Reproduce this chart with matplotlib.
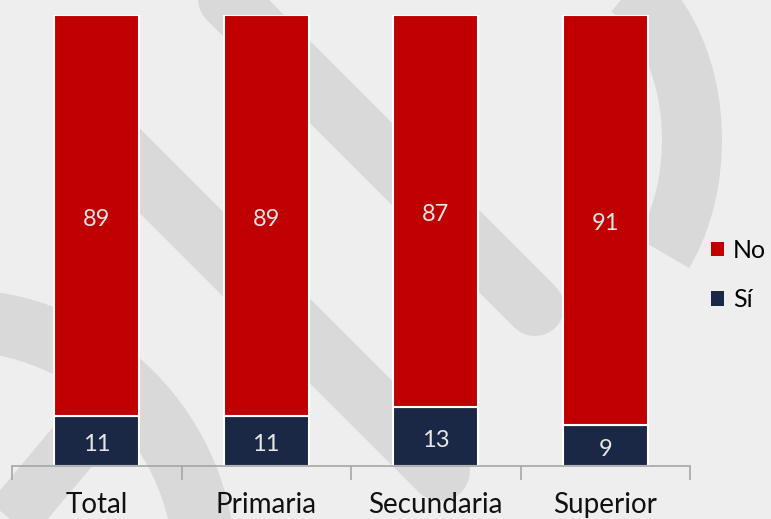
import matplotlib
matplotlib.use("Agg")
import matplotlib.pyplot as plt
from matplotlib.patches import Arc
from matplotlib.lines import Line2D
import numpy as np

categories = ["Total", "Primaria", "Secundaria", "Superior"]
si_values = [11, 11, 13, 9]
no_values = [89, 89, 87, 91]
series_names = ["No", "Sí"]

RED = "#C00000"
NAVY = "#1B2845"
BG = "#EEEEEE"
WM = "#D9D9D9"

plt.rcParams["font.family"] = ["Lato", "DejaVu Sans"]

fig = plt.figure(figsize=(7.71, 5.19), dpi=100, facecolor=BG)

# decorative watermark (background logo), figure pixel coords
wm = fig.add_axes([0, 0, 1, 1], zorder=0)
wm.set_xlim(0, 771)
wm.set_ylim(519, 0)
wm.axis("off")
wm.set_facecolor(BG)
px = 72 / 100.0
wm.add_line(Line2D([95, 440], [126, 471], color=WM, lw=60 * px, solid_capstyle="round"))
wm.add_line(Line2D([222, 535], [-6, 307], color=WM, lw=58 * px, solid_capstyle="round"))
wm.add_patch(Arc((575, 140), 234, 344, theta1=-70, theta2=52, color=WM, lw=60 * px))
wm.add_patch(Arc((-45, 570), 500, 500, theta1=-90, theta2=0, color=WM, lw=62 * px))
wm.add_line(Line2D([-10, 95], [545, 420], color=WM, lw=55 * px, solid_capstyle="butt"))

ax = fig.add_axes([12/771, 53/519, (690-12)/771, (466-15)/519], zorder=1)
ax.patch.set_alpha(0)

x = np.arange(len(categories))
w = 0.5
b_si = ax.bar(x, si_values, width=w, color=NAVY, edgecolor="white", linewidth=1.5, label=series_names[1])
b_no = ax.bar(x, no_values, width=w, bottom=si_values, color=RED, edgecolor="white", linewidth=1.5, label=series_names[0])

for i in range(len(categories)):
    ax.annotate(str(si_values[i]), (x[i], si_values[i] / 2), xytext=(0, -3.5),
                textcoords="offset pixels", ha="center", va="center",
                color="#E6E6E6", fontsize=17)
    ax.annotate(str(no_values[i]), (x[i], si_values[i] + no_values[i] / 2), xytext=(0, -3.5),
                textcoords="offset pixels", ha="center", va="center",
                color="#E6E6E6", fontsize=17)

ax.set_xlim(-0.5, len(categories) - 0.5)
ax.set_ylim(0, 100)
ax.set_yticks([])
for s in ["left", "right", "top"]:
    ax.spines[s].set_visible(False)
ax.spines["bottom"].set_color("#A6A6A6")
ax.spines["bottom"].set_linewidth(1.2)
ax.set_xticks(np.arange(-0.5, len(categories), 1.0), minor=False)
ax.set_xticklabels([])
ax.tick_params(axis="x", which="major", length=10, color="#A6A6A6", width=1.2)
ax.set_xticks(x, minor=True)
ax.set_xticklabels(categories, minor=True, fontsize=20, color="#111111")
ax.tick_params(axis="x", which="minor", length=0, pad=19)

handles = [b_no, b_si]
leg = fig.legend(handles, series_names, loc="center left", bbox_to_anchor=(711/771, 1 - 275/519),
                 frameon=False, fontsize=18, handlelength=0.52, handleheight=0.52,
                 handletextpad=0.35, labelspacing=1.05, borderaxespad=0, borderpad=0)
for h in leg.legend_handles:
    h.set_edgecolor("none")

fig.savefig("out.png", dpi=100, facecolor=BG)
